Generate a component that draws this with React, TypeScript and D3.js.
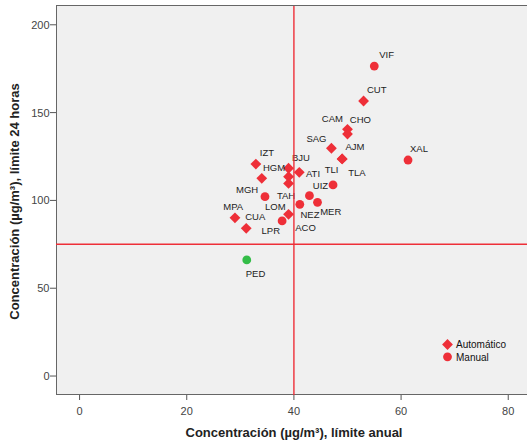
import React from "react";
import * as d3 from "d3";

// Monitoring stations: annual mean vs. 24-hour concentration (µg/m³)
const stations = ["VIF", "CUT", "CHO", "CAM", "SAG", "AJM", "TLA", "XAL", "IZT", "MGH", "BJU", "HGM", "TAH", "ATI", "TLI", "LOM", "UIZ", "NEZ", "MER", "MPA", "CUA", "ACO", "LPR", "PED"];
const annualValues = [55, 53, 50, 50, 47, 49, 49, 61.3, 32.9, 34, 39, 39, 39, 41, 47.3, 34.6, 42.9, 41.1, 44.4, 29, 31.1, 39, 37.8, 31.2];
const dailyValues = [176.5, 156.6, 140.5, 137.8, 129.7, 123.6, 123.6, 123, 120.7, 112.6, 118.3, 113.5, 109.7, 116, 108.8, 102.1, 102.7, 97.8, 98.9, 90.1, 84.1, 92.1, 88.3, 66.1];
const stationTypes = ["Manual", "Automático", "Automático", "Automático", "Automático", "Automático", "Automático", "Manual", "Automático", "Automático", "Automático", "Automático", "Automático", "Automático", "Manual", "Manual", "Manual", "Manual", "Manual", "Automático", "Automático", "Automático", "Manual", "Manual"];

const legendTypes = ["Automático", "Manual"];
const xTicks = [0, 20, 40, 60, 80];
const yTicks = [0, 50, 100, 150, 200];

// Regulatory limits drawn as reference lines
const annualLimit = 40;
const dailyLimit = 75;

// Label placement (pixel offset of each label from its point)
const labelOffsets: [number, number][] = [
  [5, -11], [3.4, -11.7], [2.3, -9.3], [-25.7, -15], [-25, -10], [3.4, -12.3], [6, 13.7],
  [2, -11], [4, -11.7], [-25.7, 11], [3.4, -10.6], [-25.6, -9], [-11.6, 12.7], [6.7, 1],
  [-8.3, -15], [0, 10.3], [3.4, -10.4], [0.7, 10], [2.7, 9.4], [-11.7, -11], [-1, -11.6],
  [6.7, 13.4], [-20.6, 10], [-1, 13.3],
];

const W = 527;
const H = 442;
const RED = "#ee2f38";
const GREEN = "#34bd48";
const FONT = "'Liberation Sans', Arial, sans-serif";

const xScale = d3.scaleLinear().domain([-4.4, 83.5]).range([56, 527]);
const yScale = d3.scaleLinear().domain([-10.8, 210.7]).range([395, 6]);

function Marker({ type, x, y, color }: { type: string; x: number; y: number; color: string }) {
  if (type === "Automático") {
    const s = 5.4;
    return <path d={`M${x},${y - s}L${x + s},${y}L${x},${y + s}L${x - s},${y}Z`} fill={color} />;
  }
  return <circle cx={x} cy={y} r={4.4} fill={color} />;
}

export default function App() {
  const left = xScale(-4.4);
  const top = yScale(210.7);
  const bottom = yScale(-10.8);
  const points = stations.map((name, i) => ({
    name,
    x: xScale(annualValues[i]),
    y: yScale(dailyValues[i]),
    type: stationTypes[i],
    color: annualValues[i] < annualLimit && dailyValues[i] < dailyLimit ? GREEN : RED,
    off: labelOffsets[i],
  }));

  return (
    <svg width={W} height={H} style={{ position: "absolute", left: 0, top: 0 }} fontFamily={FONT}>
      <rect x={0} y={0} width={W} height={H} fill="#ffffff" />
      <rect x={left + 0.5} y={top - 0.5} width={W + 10} height={bottom - top} fill="#f0f0f0" stroke="#666" strokeWidth={1} />

      {/* y axis */}
      {yTicks.map((t) => (
        <g key={`y${t}`}>
          <line x1={left - 6} x2={left} y1={yScale(t)} y2={yScale(t)} stroke="#555" />
          <text x={left - 6.5} y={yScale(t) + 4} textAnchor="end" fontSize={11} fill="#444">{t}</text>
        </g>
      ))}
      {/* x axis */}
      {xTicks.map((t) => (
        <g key={`x${t}`}>
          <line x1={xScale(t)} x2={xScale(t)} y1={bottom} y2={bottom + 5} stroke="#555" />
          <text x={xScale(t)} y={bottom + 20} textAnchor="middle" fontSize={11} fill="#444">{t}</text>
        </g>
      ))}

      <text x={294} y={437} textAnchor="middle" fontSize={13} fontWeight="bold" fill="#222">
        Concentración (µg/m³), límite anual
      </text>
      <text transform="translate(18.5,201.5) rotate(-90)" textAnchor="middle" fontSize={13} fontWeight="bold" fill="#222">
        Concentración (µg/m³), límite 24 horas
      </text>

      {points.map((p) => (
        <Marker key={`m${p.name}`} type={p.type} x={p.x} y={p.y} color={p.color} />
      ))}
      {points.map((p) => (
        <text key={`l${p.name}`} x={p.x + p.off[0]} y={p.y + p.off[1] + 3.4} fontSize={9.5} fill="#222">
          {p.name}
        </text>
      ))}

      {/* limit reference lines */}
      <line x1={xScale(annualLimit)} x2={xScale(annualLimit)} y1={top} y2={bottom} stroke={RED} strokeWidth={1.4} />
      <line x1={left} x2={W} y1={yScale(dailyLimit)} y2={yScale(dailyLimit)} stroke={RED} strokeWidth={1.4} />

      {/* legend */}
      {legendTypes.map((t, i) => (
        <g key={t}>
          <Marker type={t} x={447.5} y={344.5 + i * 12.3} color={RED} />
          <text x={456} y={348.3 + i * 12.3} fontSize={10} fill="#111">{t}</text>
        </g>
      ))}
    </svg>
  );
}
